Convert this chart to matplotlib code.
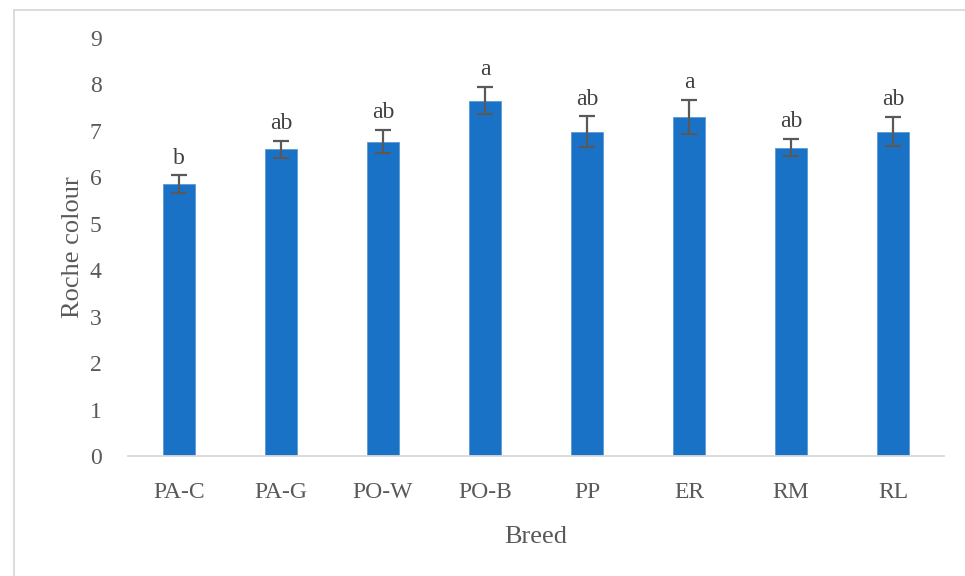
import matplotlib
matplotlib.use("Agg")
import matplotlib.pyplot as plt
from matplotlib.lines import Line2D

plt.rcParams['font.family'] = ['Liberation Serif', 'DejaVu Serif']

breeds = ["PA-C", "PA-G", "PO-W", "PO-B", "PP", "ER", "RM", "RL"]
roche = [5.85, 6.60, 6.77, 7.65, 6.98, 7.30, 6.64, 6.98]
sem = [0.19, 0.19, 0.24, 0.29, 0.33, 0.37, 0.18, 0.31]
letters = ["b", "ab", "ab", "a", "ab", "a", "ab", "ab"]

BAR = "#1A72C6"
GREY = "#595959"

fig = plt.figure(figsize=(9.65, 5.76), dpi=100)
ax = fig.add_axes([128 / 965, 1 - 456 / 576, 816 / 965, (456 - 38) / 576])

# chart-area border: only the top and left edges fall inside the canvas
border = dict(transform=fig.transFigure, color="#D9D9D9", linewidth=1.3)
fig.lines.append(Line2D([14 / 965, 1], [1 - 10 / 576, 1 - 10 / 576], **border))
fig.lines.append(Line2D([14 / 965, 14 / 965], [0, 1 - 10 / 576], **border))

x = range(len(breeds))
ax.bar(x, roche, width=0.31, color=BAR, edgecolor="#5B9BD5", linewidth=0.6, zorder=2)
ax.errorbar(x, roche, yerr=sem, fmt="none", ecolor=GREY, elinewidth=1.6,
            capsize=5.5, capthick=1.6, zorder=3)

for xi, v, e, lab in zip(x, roche, sem, letters):
    ax.annotate(lab, (xi, v + e), xytext=(0, 5), textcoords="offset points",
                ha="center", va="bottom", fontsize=17, color="#404040")

ax.set_xlim(-0.5, len(breeds) - 0.5)
ax.set_ylim(0, 9)
ax.set_yticks(range(10))
ax.set_xticks(list(x))
ax.set_xticklabels(breeds)
ax.tick_params(axis="both", length=0, labelsize=17, labelcolor=GREY)
ax.tick_params(axis="x", pad=19)
ax.tick_params(axis="y", pad=19)

for side in ("top", "right", "left"):
    ax.spines[side].set_visible(False)
ax.spines["bottom"].set_color("#D9D9D9")
ax.spines["bottom"].set_linewidth(1.3)

ax.set_xlabel("Breed", fontsize=19, color=GREY, labelpad=16)
ax.set_ylabel("Roche colour", fontsize=19, color=GREY, labelpad=4)

fig.savefig("out.png", dpi=100)
